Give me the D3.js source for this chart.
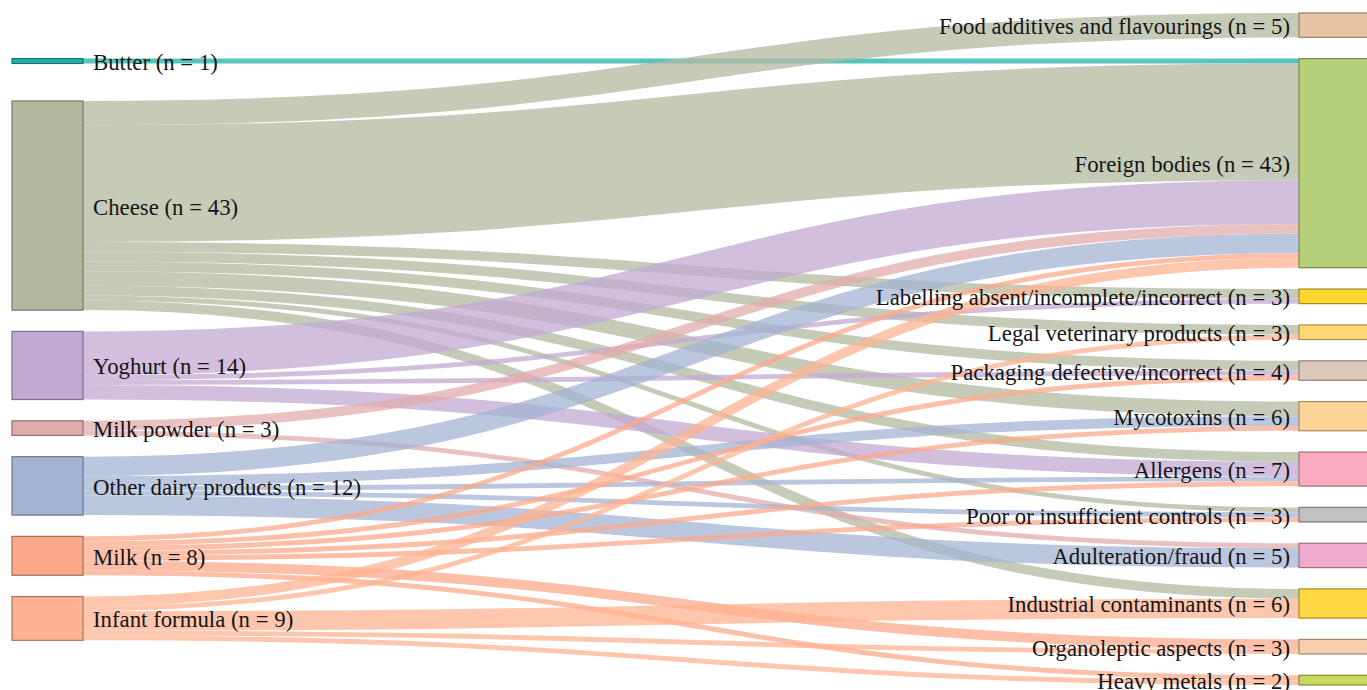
<!DOCTYPE html>
<html lang="en">
<head>
    <meta charset="UTF-8">
    <title>Dairy products and hazards - Sankey</title>
    <style>
        body { margin: 0; background: #fff; }
        .label {
            font-family: "Liberation Serif", "Times New Roman", serif;
            font-size: 22.8px;
            fill: #151515;
        }
    </style>
</head>
<body>

<svg width="1367" height="690"></svg>

<script src="https://d3js.org/d3.v7.min.js"></script>
<script>

    // Left column: product categories
    const products = ['Butter', 'Cheese', 'Yoghurt', 'Milk powder', 'Other dairy products', 'Milk', 'Infant formula'];
    const productColors = ['#1fb0a8', '#b2b99f', '#c2a9d2', '#e2abab', '#a3b3d2', '#fca98a', '#fdb391'];

    // Right column: hazard categories
    const hazards = [
        'Food additives and flavourings',
        'Foreign bodies',
        'Labelling absent/incomplete/incorrect',
        'Legal veterinary products',
        'Packaging defective/incorrect',
        'Mycotoxins',
        'Allergens',
        'Poor or insufficient controls',
        'Adulteration/fraud',
        'Industrial contaminants',
        'Organoleptic aspects',
        'Heavy metals'
    ];
    const hazardColors = ['#e6c4a3', '#b6d07a', '#fdd630', '#ffd874', '#dcc8b8', '#ffd597',
                          '#fdabc1', '#c1c1c1', '#f0abcc', '#ffd944', '#f7cfad', '#c9d75c'];

    // Notifications per product -> hazard
    const flowSource = [
        'Butter',
        'Cheese', 'Cheese', 'Cheese', 'Cheese', 'Cheese', 'Cheese', 'Cheese', 'Cheese', 'Cheese',
        'Yoghurt', 'Yoghurt', 'Yoghurt', 'Yoghurt',
        'Milk powder', 'Milk powder',
        'Other dairy products', 'Other dairy products', 'Other dairy products', 'Other dairy products', 'Other dairy products',
        'Milk', 'Milk', 'Milk', 'Milk', 'Milk', 'Milk', 'Milk',
        'Infant formula', 'Infant formula', 'Infant formula', 'Infant formula', 'Infant formula'
    ];
    const flowTarget = [
        'Foreign bodies',
        'Food additives and flavourings', 'Foreign bodies', 'Labelling absent/incomplete/incorrect',
        'Legal veterinary products', 'Packaging defective/incorrect', 'Mycotoxins', 'Allergens',
        'Poor or insufficient controls', 'Industrial contaminants',
        'Foreign bodies', 'Labelling absent/incomplete/incorrect', 'Packaging defective/incorrect', 'Allergens',
        'Foreign bodies', 'Adulteration/fraud',
        'Foreign bodies', 'Mycotoxins', 'Allergens', 'Poor or insufficient controls', 'Adulteration/fraud',
        'Foreign bodies', 'Packaging defective/incorrect', 'Mycotoxins', 'Allergens',
        'Poor or insufficient controls', 'Organoleptic aspects', 'Heavy metals',
        'Foreign bodies', 'Legal veterinary products', 'Industrial contaminants', 'Organoleptic aspects', 'Heavy metals'
    ];
    const flowValue = [
        1,
        5, 24, 2, 2, 2, 3, 2, 1, 2,
        9, 1, 1, 3,
        2, 1,
        4, 2, 1, 1, 4,
        1, 1, 1, 1, 1, 2, 1,
        2, 1, 4, 1, 1
    ];

    const svg = d3.select('svg');
    const width = +svg.attr('width');

    const nodeWidth = 71;
    const nodePad = 21.3;
    const leftX = 12;
    const rightX = 1299;
    const topY = 13;
    const bottomY = 685;
    const sourceTop = 101;   // cheese starts here, butter lines up with its target

    const links = flowValue.map(function (v, i) {
        return { source: flowSource[i], target: flowTarget[i], value: v };
    });

    const total = d3.sum(flowValue);

    // value -> pixels, based on the right column filling the height
    const yScale = d3.scaleLinear()
        .domain([0, total])
        .range([0, (bottomY - topY) - (hazards.length - 1) * nodePad]);

    function makeNodes(names, colors, key, x0) {
        return names.map(function (name, i) {
            const value = d3.sum(links.filter(function (l) { return l[key] === name; }), function (l) { return l.value; });
            return { name: name, color: colors[i], value: value, x0: x0, x1: x0 + nodeWidth };
        });
    }

    const srcNodes = makeNodes(products, productColors, 'source', leftX);
    const tgtNodes = makeNodes(hazards, hazardColors, 'target', rightX);

    // stack the hazards
    let y = topY;
    tgtNodes.forEach(function (n) {
        n.y0 = y;
        n.y1 = y + yScale(n.value);
        y = n.y1 + nodePad;
    });

    // stack the products from cheese down
    y = sourceTop;
    srcNodes.slice(1).forEach(function (n) {
        n.y0 = y;
        n.y1 = y + yScale(n.value);
        y = n.y1 + nodePad;
    });

    const srcByName = new Map(srcNodes.map(function (n) { return [n.name, n]; }));
    const tgtByName = new Map(tgtNodes.map(function (n) { return [n.name, n]; }));

    links.forEach(function (l) {
        l.src = srcByName.get(l.source);
        l.tgt = tgtByName.get(l.target);
        l.width = yScale(l.value);
    });

    // butter sits level with the top of its single target
    const butter = srcNodes[0];
    butter.y0 = tgtByName.get('Foreign bodies').y0;
    butter.y1 = butter.y0 + yScale(butter.value);

    // link offsets: at source sorted by target order, at target sorted by source order
    srcNodes.forEach(function (n) {
        let off = n.y0;
        links.filter(function (l) { return l.src === n; })
            .sort(function (a, b) { return hazards.indexOf(a.target) - hazards.indexOf(b.target); })
            .forEach(function (l) {
                l.y0 = off + l.width / 2;
                off += l.width;
            });
    });
    tgtNodes.forEach(function (n) {
        let off = n.y0;
        links.filter(function (l) { return l.tgt === n; })
            .sort(function (a, b) { return products.indexOf(a.source) - products.indexOf(b.source); })
            .forEach(function (l) {
                l.y1 = off + l.width / 2;
                off += l.width;
            });
    });

    const linkPath = d3.linkHorizontal()
        .source(function (d) { return [d.src.x1, d.y0]; })
        .target(function (d) { return [d.tgt.x0, d.y1]; });

    svg.append('g')
        .attr('fill', 'none')
        .selectAll('path')
        .data(links)
        .enter()
        .append('path')
        .attr('d', linkPath)
        .attr('stroke', function (d) { return d.src.color; })
        .attr('stroke-opacity', 0.74)
        .attr('stroke-width', function (d) { return Math.max(1, d.width); });

    const allNodes = srcNodes.concat(tgtNodes);

    svg.append('g')
        .selectAll('rect')
        .data(allNodes)
        .enter()
        .append('rect')
        .attr('x', function (d) { return d.x0; })
        .attr('y', function (d) { return d.y0; })
        .attr('width', function (d) { return d.x1 - d.x0; })
        .attr('height', function (d) { return d.y1 - d.y0; })
        .attr('fill', function (d) { return d.color; })
        .attr('stroke', function (d) { return d3.color(d.color).darker(1.2); })
        .attr('stroke-width', 1.2);

    // labels
    svg.append('g')
        .selectAll('text')
        .data(allNodes)
        .enter()
        .append('text')
        .attr('class', 'label')
        .attr('x', function (d) { return d.x0 < width / 2 ? d.x1 + 10 : d.x0 - 9; })
        .attr('y', function (d) { return (d.y0 + d.y1) / 2 + 1; })
        .attr('dy', '0.35em')
        .attr('text-anchor', function (d) { return d.x0 < width / 2 ? 'start' : 'end'; })
        .text(function (d) { return d.name + ' (n = ' + d.value + ')'; });

</script>
</body>
</html>
